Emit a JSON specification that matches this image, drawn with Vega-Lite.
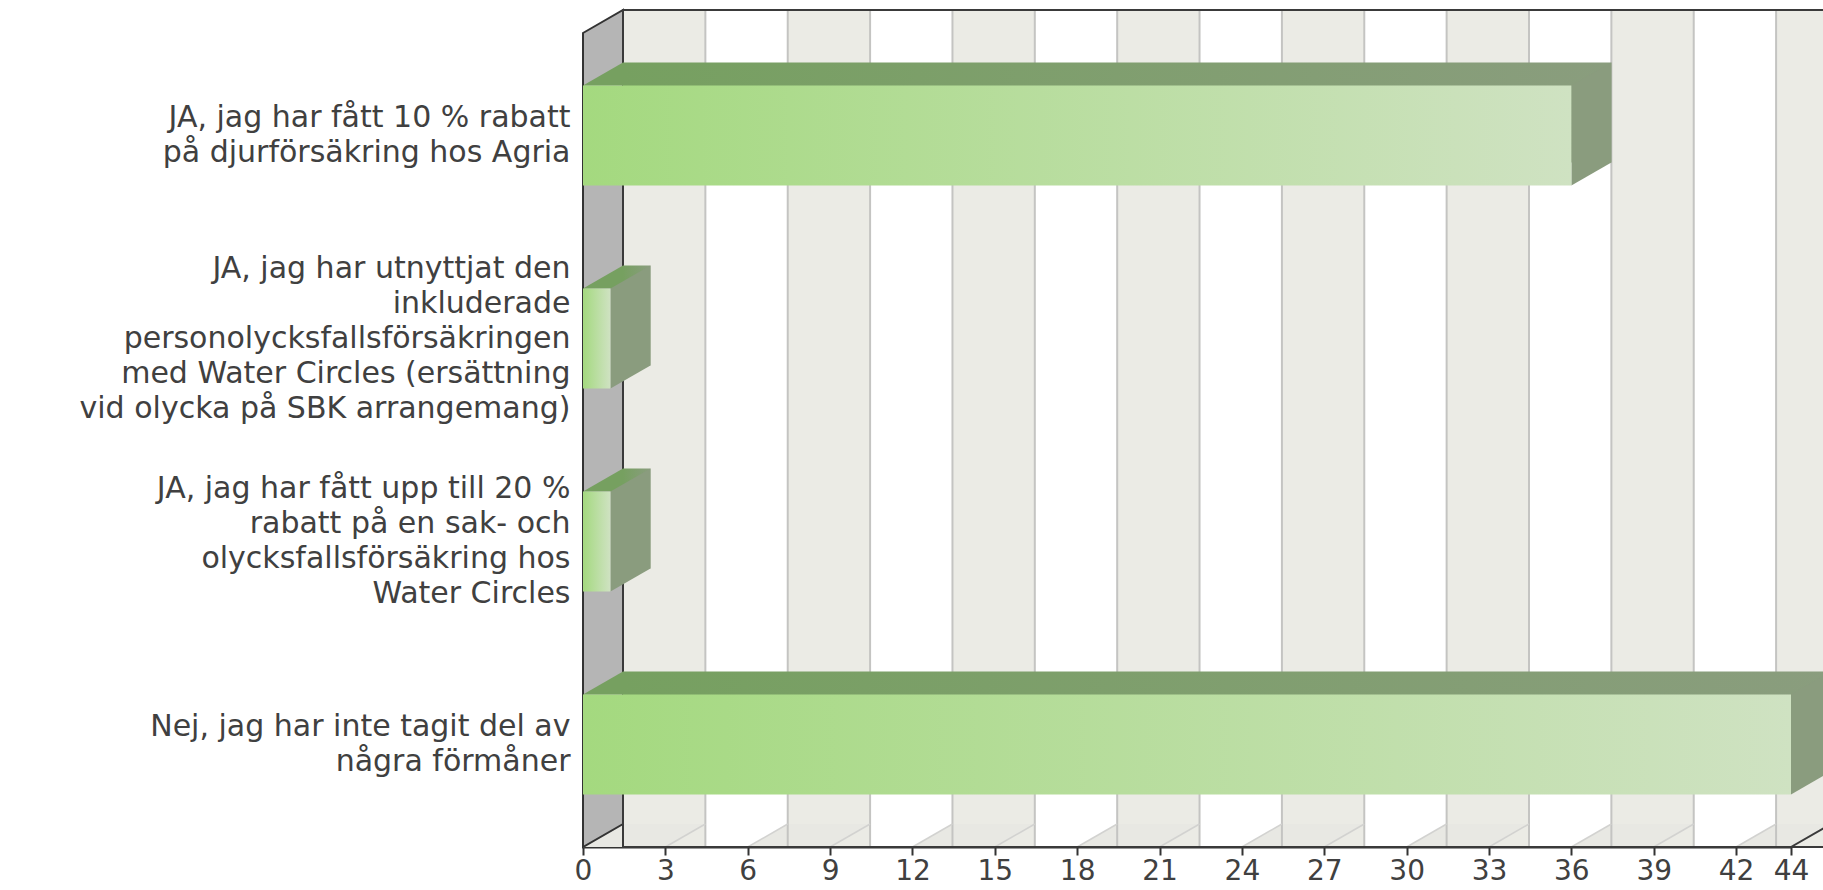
{
  "$schema": "https://vega.github.io/schema/vega-lite/v6.json",
  "width": 1208,
  "height": 814,
  "autosize": {"type": "none"},
  "padding": {"left": 583, "top": 33, "right": 32, "bottom": 43},
  "background": "white",
  "config": {"view": {"stroke": null}},
  "datasets": {
    "bars": [
      {"label": "JA, jag har fått 10 % rabatt\npå djurförsäkring hos Agria", "value": 36},
      {"label": "JA, jag har utnyttjat den\ninkluderade\npersonolycksfallsförsäkringen\nmed Water Circles (ersättning\nvid olycka på SBK arrangemang)", "value": 1},
      {"label": "JA, jag har fått upp till 20 %\nrabatt på en sak- och\nolycksfallsförsäkring hos\nWater Circles", "value": 1},
      {"label": "Nej, jag har inte tagit del av\nnågra förmåner", "value": 44}
    ],
    "stripes": [
      {"from": 0, "to": 3}, {"from": 6, "to": 9}, {"from": 12, "to": 15}, {"from": 18, "to": 21},
      {"from": 24, "to": 27}, {"from": 30, "to": 33}, {"from": 36, "to": 39}, {"from": 42, "to": 44}
    ],
    "ticks": [
      {"t": 0}, {"t": 3}, {"t": 6}, {"t": 9}, {"t": 12}, {"t": 15}, {"t": 18}, {"t": 21},
      {"t": 24}, {"t": 27}, {"t": 30}, {"t": 33}, {"t": 36}, {"t": 39}, {"t": 42}, {"t": 44}
    ]
  },
  "layer": [
    {
      "data": {"name": "stripes"},
      "mark": {"type": "rect", "fill": "#ebebe5", "xOffset": 40, "x2Offset": 40, "yOffset": -23, "y2Offset": -23},
      "encoding": {
        "x": {"field": "from", "type": "quantitative", "scale": {"domain": [0, 44], "nice": false, "zero": true}},
        "x2": {"field": "to"}
      }
    },
    {
      "data": {"name": "stripes"},
      "transform": [{"filter": "datum.from < 42"}],
      "mark": {"type": "point", "shape": "M0,407L82.36,407L122.36,384L40,384Z", "size": 4, "filled": true, "fill": "#e8e8e3", "strokeWidth": 0, "opacity": 1},
      "encoding": {
        "x": {"field": "from", "type": "quantitative"}
      }
    },
    {
      "data": {"name": "stripes"},
      "transform": [{"filter": "datum.from == 42"}],
      "mark": {"type": "point", "shape": "M0,407L54.91,407L94.91,384L40,384Z", "size": 4, "filled": true, "fill": "#e8e8e3", "strokeWidth": 0, "opacity": 1},
      "encoding": {
        "x": {"field": "from", "type": "quantitative"}
      }
    },
    {
      "data": {"name": "ticks"},
      "mark": {"type": "rule", "stroke": "#c4c4c2", "strokeWidth": 2, "xOffset": 40, "yOffset": -23, "y2Offset": -23},
      "encoding": {
        "x": {"field": "t", "type": "quantitative"}
      }
    },
    {
      "data": {"name": "ticks"},
      "mark": {"type": "point", "shape": "M0,407L40,384", "size": 4, "filled": false, "stroke": "#d2d2d0", "strokeWidth": 1.5, "opacity": 1},
      "encoding": {
        "x": {"field": "t", "type": "quantitative"}
      }
    },
    {
      "data": {"name": "ticks"},
      "transform": [{"filter": "datum.t == 0"}],
      "mark": {"type": "point", "shape": "M0,-407L40,-430L40,384L0,407Z", "size": 4, "filled": true, "fill": "#b5b5b5", "stroke": "#333333", "strokeWidth": 2, "opacity": 1},
      "encoding": {
        "x": {"field": "t", "type": "quantitative"}
      }
    },
    {
      "data": {"name": "ticks"},
      "transform": [{"filter": "datum.t == 0"}],
      "mark": {"type": "rect", "fill": null, "fillOpacity": 0, "stroke": "#3a3a3a", "strokeWidth": 2, "xOffset": 40, "x2Offset": 40, "yOffset": -23, "y2Offset": -23},
      "encoding": {
        "x": {"datum": 0, "type": "quantitative"},
        "x2": {"datum": 44}
      }
    },
    {
      "data": {"name": "ticks"},
      "transform": [{"filter": "datum.t == 44"}],
      "mark": {"type": "point", "shape": "M0,407L40,384", "size": 4, "filled": false, "stroke": "#3a3a3a", "strokeWidth": 2, "opacity": 1},
      "encoding": {
        "x": {"field": "t", "type": "quantitative"}
      }
    },
    {
      "data": {"name": "bars"},
      "mark": {"type": "bar", "xOffset": 40, "x2Offset": 40, "yOffset": -23,
        "fill": {"gradient": "linear", "x1": 0, "x2": 1, "y1": 0, "y2": 0, "stops": [{"offset": 0, "color": "#76a060"}, {"offset": 1, "color": "#8a9d7e"}]}},
      "encoding": {
        "x": {"field": "value", "type": "quantitative"},
        "y": {"field": "label", "type": "nominal", "sort": null, "scale": {"paddingInner": 0.507, "paddingOuter": 0.259}}
      }
    },
    {
      "data": {"name": "bars"},
      "mark": {"type": "point", "shape": "M0,-50L40,-73L40,-50Z", "size": 4, "filled": true, "fill": "#76a060", "strokeWidth": 0, "opacity": 1},
      "encoding": {
        "x": {"datum": 0, "type": "quantitative"},
        "y": {"field": "label", "type": "nominal", "sort": null}
      }
    },
    {
      "data": {"name": "bars"},
      "mark": {"type": "point", "shape": "M0,-50L40,-73L40,27L0,50Z", "size": 4, "filled": true, "fill": "#8a9c7e", "strokeWidth": 0, "opacity": 1},
      "encoding": {
        "x": {"field": "value", "type": "quantitative"},
        "y": {"field": "label", "type": "nominal", "sort": null}
      }
    },
    {
      "data": {"name": "bars"},
      "mark": {"type": "bar",
        "fill": {"gradient": "linear", "x1": 0, "x2": 1, "y1": 0, "y2": 0, "stops": [{"offset": 0, "color": "#a4d97f"}, {"offset": 1, "color": "#cfe2c2"}]}},
      "encoding": {
        "x": {"field": "value", "type": "quantitative",
          "axis": {"title": null, "values": [0, 3, 6, 9, 12, 15, 18, 21, 24, 27, 30, 33, 36, 39, 42, 44],
            "grid": false, "domainColor": "#333333", "domainWidth": 2, "tickColor": "#333333", "tickWidth": 2, "tickSize": 8,
            "labelFont": "DejaVu Sans", "labelFontSize": 28, "labelColor": "#404040", "labelPadding": 2, "labelOverlap": false, "labelFlush": false}},
        "y": {"field": "label", "type": "nominal", "sort": null,
          "axis": {"title": null, "domainColor": "#333333", "domainWidth": 2, "ticks": false,
            "labelFont": "DejaVu Sans", "labelFontSize": 30, "labelColor": "#404040", "labelPadding": 13, "labelLimit": 0,
            "labelLineHeight": 35, "labelAlign": "right", "labelBaseline": "middle",
            "labelOffset": {"condition": [
              {"test": "indexof(datum.value, 'utnyttjat') >= 0", "value": -70},
              {"test": "indexof(datum.value, '20 %') >= 0", "value": -52.5}
            ], "value": -17.5},
            "labelExpr": "split(datum.label, '\\n')"}}
      }
    }
  ]
}
